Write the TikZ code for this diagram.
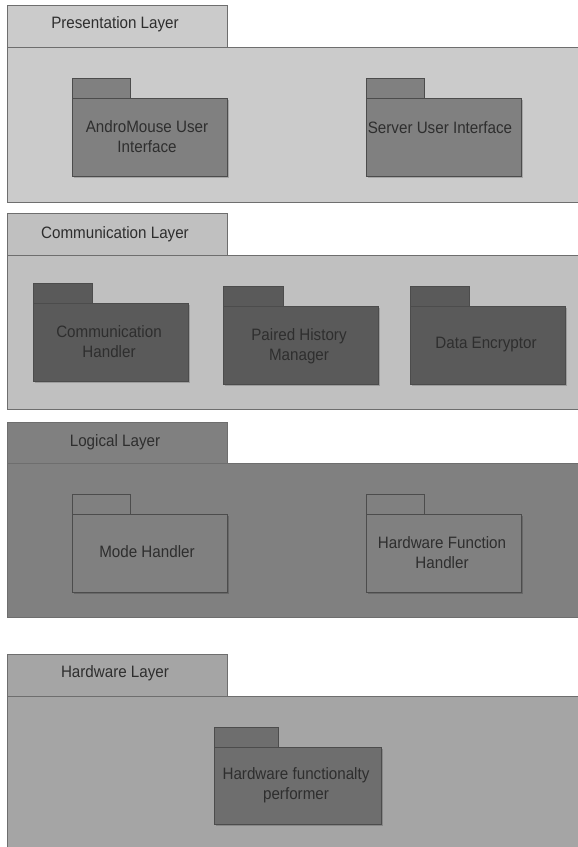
\documentclass[tikz,border=0pt]{standalone}
\usepackage{fontspec}
\setmainfont{Liberation Sans}[FakeStretch=0.92]
\usetikzlibrary{positioning}

% layer and package colours
\definecolor{presbg}{HTML}{CBCBCB}
\definecolor{prespkg}{HTML}{808080}
\definecolor{commbg}{HTML}{C0C0C0}
\definecolor{commpkg}{HTML}{5A5A5A}
\definecolor{logbg}{HTML}{808080}
\definecolor{logpkg}{HTML}{808080}
\definecolor{hwbg}{HTML}{A5A5A5}
\definecolor{hwpkg}{HTML}{6E6E6E}
\definecolor{layerline}{HTML}{6E6E6E}
\definecolor{pkgline}{HTML}{4C4C4C}
\definecolor{txt}{HTML}{2E2E2E}

\tikzset{
  layerpart/.style={draw=layerline, line width=0.9pt, inner sep=0pt, outer sep=0pt, anchor=north west},
  pkgpart/.style={draw=pkgline, line width=0.8pt, inner sep=0pt, outer sep=0pt, anchor=north west},
  pkgshadow/.style={fill=black, fill opacity=0.18, draw=none, inner sep=0pt, outer sep=0pt, anchor=north west},
  lbl/.style={text=txt, align=center, inner sep=0pt, font=\fontsize{16.5}{20}\selectfont},
}

% package symbol: #1 name, #2 x, #3 tab top y, #4 body width, #5 body height, #6 fill, #7 tab width
\newcommand{\umlpkg}[7]{%
  \node[pkgshadow, minimum width=#4 pt, minimum height=#5 pt] at (#2+2,#3+22) {};
  \node[pkgpart, fill=#6, minimum width=#7 pt, minimum height=20pt] (#1tab) at (#2,#3) {};
  \node[pkgpart, fill=#6, minimum width=#4 pt, minimum height=#5 pt] (#1) at (#2,#3+20) {};
}

% layer frame: #1 name, #2 tab top y, #3 body top y, #4 body bottom y, #5 fill
\newcommand{\layerframe}[5]{%
  \node[layerpart, fill=#5, minimum width=220pt, minimum height=#3-#2 pt] (#1tab) at (7,#2) {};
  \node[layerpart, fill=#5, minimum width=590pt, minimum height=#4-#3 pt] (#1) at (7,#3) {};
}

\begin{document}
\begin{tikzpicture}[x=1pt, y=-1pt]
  \useasboundingbox (0,0) rectangle (578,847);
  \clip (0,0) rectangle (578,847);
  \fill[white] (0,0) rectangle (578,847);

  % Presentation layer
  \layerframe{pres}{5}{47}{202}{presbg}
  \node[lbl] (preslbl) at (115,24) {Presentation Layer};
  \umlpkg{andro}{72}{78}{155}{78}{prespkg}{58}
  \umlpkg{server}{366}{78}{155}{78}{prespkg}{58}
  \node[lbl] (androlbl) at (147,137) {AndroMouse User\\Interface};
  \node[lbl] (serverlbl) at (440,128) {Server User Interface};

  % Communication layer
  \layerframe{comm}{213}{255}{409}{commbg}
  \node[lbl] (commlbl) at (115,234) {Communication Layer};
  \umlpkg{commh}{33}{283}{155}{78}{commpkg}{59}
  \umlpkg{paired}{223}{286}{155}{78}{commpkg}{60}
  \umlpkg{crypt}{410}{286}{155}{78}{commpkg}{59}
  \node[lbl] (commhlbl) at (109,342) {Communication\\Handler};
  \node[lbl] (pairedlbl) at (299,346) {Paired History\\Manager};
  \node[lbl] (cryptlbl) at (486,345) {Data Encryptor};

  % Logical layer
  \layerframe{logic}{422}{463}{617}{logbg}
  \node[lbl] (logiclbl) at (115,442) {Logical Layer};
  \umlpkg{mode}{72}{494}{155}{78}{logpkg}{58}
  \umlpkg{hwfunc}{366}{494}{155}{78}{logpkg}{58}
  \node[lbl] (modelbl) at (147,552) {Mode Handler};
  \node[lbl] (hwfunclbl) at (442,553) {Hardware Function\\Handler};

  % Hardware layer
  \layerframe{hw}{654}{696}{900}{hwbg}
  \node[lbl] (hwlbl) at (115,673) {Hardware Layer};
  \umlpkg{perf}{214}{727}{167}{77}{hwpkg}{64}
  \node[lbl] (perflbl) at (296,785) {Hardware functionalty\\performer};
\end{tikzpicture}
\end{document}
